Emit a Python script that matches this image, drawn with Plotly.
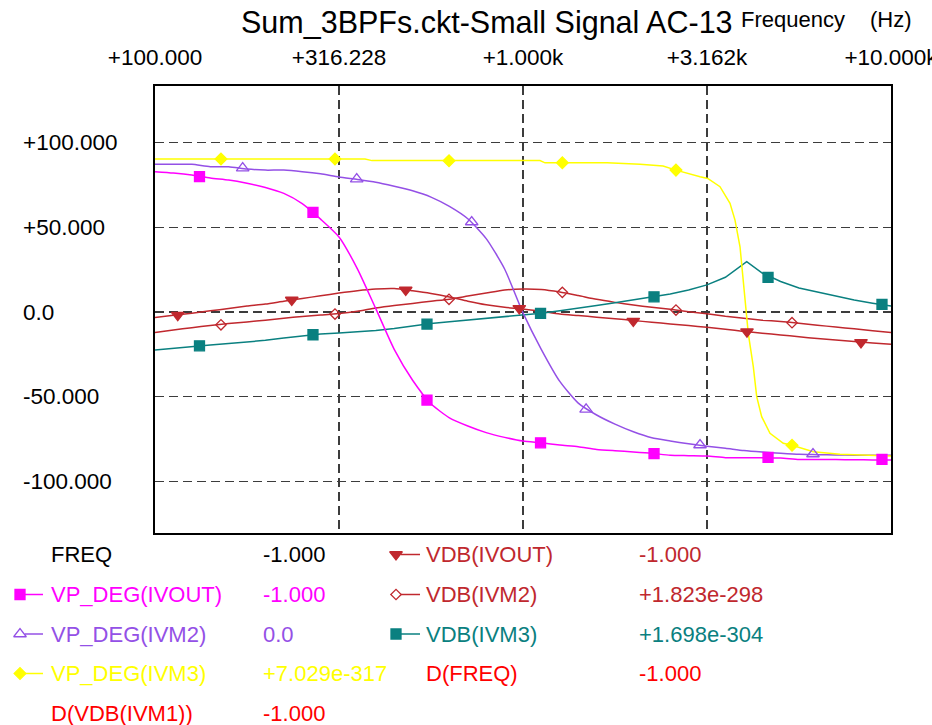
import plotly.graph_objects as go

W, H = 932, 725
FONT = "Liberation Sans, Arial, sans-serif"

# ---------------- data ----------------
FREQ = [100, 112.2, 125.9, 141.3, 158.5, 177.8, 199.5, 223.9, 251.2, 281.8,
        316.2, 354.8, 398.1, 446.7, 501.2, 562.3, 631.0, 707.9, 794.3, 891.3,
        1000, 1122, 1259, 1413, 1585, 1778, 1995, 2239, 2512, 2818,
        3162, 3548, 3981, 4467, 5012, 5623, 6310, 7079, 7943, 8913, 10000]

VP_DEG_IVOUT = [82.8, 82.0, 80.8, 79.0, 77.8, 75.9, 73.5, 70.0, 64.0, 54.8,
                44.3, 25.5, 2.0, -22.0, -40.2, -54.1, -62.4, -67.2, -71.1, -73.9,
                -76.1, -77.1, -78.4, -79.4, -81.0, -81.8, -82.5, -83.3, -84.5, -84.7,
                -84.9, -85.9, -85.9, -85.9, -86.1, -86.9, -87.0, -87.0, -87.1, -87.2, -87.3]

VP_DEG_IVM2 = [87.1, 87.1, 87.1, 85.7, 85.7, 84.3, 83.7, 83.7, 82.8, 81.5,
               79.6, 78.2, 76.6, 74.2, 71.5, 67.8, 62.3, 55.0, 43.3, 25.4,
               -0.5, -22.1, -40.9, -53.7, -60.7, -66.1, -70.6, -74.1, -76.0, -77.7,
               -79.1, -80.3, -81.7, -82.6, -83.3, -83.9, -84.1, -84.3, -84.4, -84.5, -84.5]

VDB_IVOUT = [-3.2, -1.9, -0.7, 0.7, 2.1, 3.5, 4.7, 6.4, 8.0, 9.6,
             11.2, 12.6, 13.6, 13.9, 12.6, 11.0, 8.9, 6.4, 4.3, 2.8,
             1.8, 0.4, -1.2, -2.1, -3.0, -3.9, -5.0, -6.0, -7.0, -8.0,
             -9.0, -10.2, -11.4, -12.5, -13.5, -14.6, -15.6, -16.5, -17.4, -18.3, -19.0]

VDB_IVM2 = [-12.0, -10.6, -9.2, -8.0, -6.8, -5.8, -4.8, -3.7, -2.6, -1.8,
            -0.9, 0.5, 2.4, 3.9, 5.1, 6.4, 7.6, 9.4, 11.2, 13.0,
            13.6, 13.3, 11.8, 9.7, 7.5, 5.7, 4.1, 2.8, 1.6, 0.2,
            -1.0, -2.5, -3.7, -4.8, -5.6, -6.6, -7.8, -8.8, -9.9, -11.0, -12.0]

VDB_IVM3_F = [100, 112.2, 125.9, 141.3, 158.5, 177.8, 199.5, 223.9, 251.2, 281.8,
              316.2, 354.8, 398.1, 446.7, 501.2, 562.3, 631.0, 707.9, 794.3, 891.3,
              1000, 1122, 1259, 1413, 1585, 1778, 1995, 2239, 2512, 2818,
              3162, 3548, 3981, 4054, 4467, 5012, 5623, 6310, 7079, 7943, 8913, 10000]
VDB_IVM3 = [-22.4, -21.3, -20.3, -19.4, -18.6, -17.7, -16.7, -15.3, -14.0, -13.0,
            -12.4, -11.7, -10.9, -9.7, -8.2, -6.8, -5.7, -4.7, -3.9, -2.8,
            -1.9, -0.7, 0.8, 2.2, 3.8, 5.5, 7.2, 8.7, 10.7, 13.0,
            16.0, 20.5, 28.3, 29.7, 23.0, 18.0, 14.2, 11.7, 9.2, 7.1, 5.2, 3.5]

VP_DEG_IVM3_F = [100, 372.1, 388.8, 1112, 1148, 1692, 2080, 2402, 2604, 2790,
                 3028, 3177, 3430, 3652, 3768, 3888, 3968, 4036, 4094, 4225,
                 4316, 4452, 4690, 5097, 5383, 6150, 7267, 10000]
VP_DEG_IVM3 = [90.2, 90.2, 89.3, 89.3, 88.0, 88.0, 87.1, 86.1, 83.7, 81.8,
               79.8, 78.8, 73.9, 64.1, 54.2, 38.5, 18.9, -0.8, -12.6, -32.2,
               -49.9, -61.7, -71.5, -77.4, -78.6, -82.4, -83.9, -84.9]

# marker samples
MK_A_F = [132.1, 268.7, 548.4, 1116, 2270, 4633, 9451]
VP_DEG_IVOUT_MK = [79.8, 58.8, -51.9, -77.1, -83.5, -85.7, -86.9]
VDB_IVM3_MK = [-19.9, -13.4, -7.1, -0.8, 9.0, 20.5, 4.5]
MK_B_F = [151.1, 308.4, 629.4, 1279, 2604, 5383]
VP_DEG_IVM3_MK = [90.2, 90.2, 89.2, 88.0, 83.7, -78.6]
VDB_IVM2_MK = [-7.5, -1.2, 7.5, 11.6, 1.2, -6.3]
MK_C_F = [173.1, 353.3, 725.4, 1484, 3027, 6138]
VP_DEG_IVM2_MK = [84.9, 78.4, 53.1, -57.4, -78.4, -83.7]
MK_D_F = [115.3, 235.3, 480.1, 977, 1994, 4061, 8288]
VDB_IVOUT_MK = [-1.8, 7.1, 13.0, 2.2, -5.3, -11.6, -17.9]

X_TICKS = [100, 316.228, 1000, 3162.28, 10000]
X_TICK_LABELS = ["+100.000", "+316.228", "+1.000k", "+3.162k", "+10.000k"]
Y_TICKS = [100, 50, 0, -50, -100]
Y_TICK_LABELS = ["+100.000", "+50.000", "0.0", "-50.000", "-100.000"]

TITLE = "Sum_3BPFs.ckt-Small Signal AC-13"

# legend table rows: (name, value, colour, symbol)
LEG_COL1 = [("FREQ", "-1.000", "#000000", None),
            ("VP_DEG(IVOUT)", "-1.000", "#ff00ff", "square"),
            ("VP_DEG(IVM2)", "0.0", "#9450e6", "triangle-up-open"),
            ("VP_DEG(IVM3)", "+7.029e-317", "#ffff00", "diamond"),
            ("D(VDB(IVM1))", "-1.000", "#ff0000", None)]
LEG_COL2 = [("VDB(IVOUT)", "-1.000", "#c0282e", "triangle-down"),
            ("VDB(IVM2)", "+1.823e-298", "#c0282e", "diamond-open"),
            ("VDB(IVM3)", "+1.698e-304", "#0a8080", "square"),
            ("D(FREQ)", "-1.000", "#ff0000", None)]

# ---------------- layout helpers ----------------
PL, PR, PT, PB = 155, 891, 86, 533
def fx(x):
    return x / W
def fy(y):
    return 1 - y / H

C_MAG, C_PUR, C_YEL, C_RED, C_TEAL = "#ff00ff", "#9450e6", "#ffff00", "#c0282e", "#0a8080"

fig = go.Figure()

def line(x, y, color, shape="spline"):
    fig.add_trace(go.Scatter(x=x, y=y, mode="lines", line=dict(color=color, width=1.5, shape=shape,
                                                               smoothing=0.6 if shape == "spline" else None),
                             hoverinfo="skip", showlegend=False))

def marks(x, y, color, symbol, size):
    fig.add_trace(go.Scatter(x=x, y=y, mode="markers",
                             marker=dict(color=color, symbol=symbol, size=size,
                                         line=dict(color=color, width=1.3)),
                             hoverinfo="skip", showlegend=False))

line(FREQ, VDB_IVOUT, C_RED)
line(FREQ, VDB_IVM2, C_RED)
line(VDB_IVM3_F, VDB_IVM3, C_TEAL, "linear")
line(FREQ, VP_DEG_IVOUT, C_MAG)
line(FREQ, VP_DEG_IVM2, C_PUR)
line(VP_DEG_IVM3_F, VP_DEG_IVM3, C_YEL, "linear")

marks(MK_D_F, VDB_IVOUT_MK, C_RED, "triangle-down", 11)
marks(MK_B_F, VDB_IVM2_MK, C_RED, "diamond-open", 8)
marks(MK_A_F, VDB_IVM3_MK, C_TEAL, "square", 10)
marks(MK_A_F, VP_DEG_IVOUT_MK, C_MAG, "square", 10)
marks(MK_C_F, VP_DEG_IVM2_MK, C_PUR, "triangle-up-open", 11)
marks(MK_B_F, VP_DEG_IVM3_MK, C_YEL, "diamond", 9)

# legend symbols on an overlay pixel axis
ROWS_Y = [554.5, 594.5, 634, 673.5, 713]
for col, (mx, lx0, lx1) in ((LEG_COL1, (20, 25, 43)), (LEG_COL2, (396, 401, 420))):
    for i, (name, val, color, sym) in enumerate(col):
        if sym is None:
            continue
        fig.add_trace(go.Scatter(x=[lx0, lx1], y=[ROWS_Y[i]] * 2, mode="lines",
                                 line=dict(color=color, width=1.5), xaxis="x2", yaxis="y2",
                                 hoverinfo="skip", showlegend=False))
        size = {"square": 10, "triangle-up-open": 11, "diamond": 9,
                "triangle-down": 11, "diamond-open": 8}[sym]
        fig.add_trace(go.Scatter(x=[mx], y=[ROWS_Y[i]], mode="markers",
                                 marker=dict(color=color, symbol=sym, size=size,
                                             line=dict(color=color, width=1.3)),
                                 xaxis="x2", yaxis="y2", hoverinfo="skip", showlegend=False))

ann = []
ann.append(dict(text=TITLE, x=fx(239), y=fy(22), xanchor="left", yanchor="middle",
                font=dict(family=FONT, size=30.5, color="#000000")))
ann.append(dict(text="Frequency", x=fx(739), y=fy(19), xanchor="left", yanchor="middle",
                font=dict(family=FONT, size=22, color="#000000")))
ann.append(dict(text="(Hz)", x=fx(868), y=fy(19), xanchor="left", yanchor="middle",
                font=dict(family=FONT, size=22, color="#000000")))
for v, t in zip(Y_TICKS, Y_TICK_LABELS):
    ann.append(dict(text=t, x=fx(21), xref="paper", y=v, yref="y", xanchor="left", yanchor="middle",
                    font=dict(family=FONT, size=22.5, color="#000000")))
for col, (nx, vx) in ((LEG_COL1, (49, 261)), (LEG_COL2, (424, 637))):
    for i, (name, val, color, sym) in enumerate(col):
        for t, x in ((name, nx), (val, vx)):
            ann.append(dict(text=t, x=fx(x), y=fy(ROWS_Y[i]), xanchor="left", yanchor="middle",
                            font=dict(family=FONT, size=22, color=color)))
for a in ann:
    a.setdefault("xref", "paper")
    a.setdefault("yref", "paper")
    a["showarrow"] = False

grid = dict(showgrid=True, gridcolor="#3c3c3c", gridwidth=1.3, griddash="9px,5px",
            showline=True, linecolor="#000000", linewidth=2, mirror=True, zeroline=False,
            ticks="", automargin=False)

fig.update_layout(
    width=W, height=H, autosize=False,
    margin=dict(l=0, r=0, t=0, b=0, pad=0),
    paper_bgcolor="#ffffff", plot_bgcolor="rgba(0,0,0,0)",
    showlegend=False,
    annotations=ann,
    xaxis=dict(type="log", range=[2, 4], domain=[fx(PL), fx(PR)], side="top", anchor="y",
               tickvals=X_TICKS, ticktext=X_TICK_LABELS, ticklabelstandoff=10,
               ticklabeloverflow="allow",
               tickfont=dict(family=FONT, size=22.5, color="#000000"), **grid),
    yaxis=dict(range=[-130.3, 133.3], domain=[fy(PB), fy(PT)], anchor="x",
               tickvals=Y_TICKS, showticklabels=False, **grid),
    xaxis2=dict(domain=[0, 1], range=[0, W], visible=False, anchor="y2", fixedrange=True,
                automargin=False),
    yaxis2=dict(domain=[0, 1], range=[H, 0], visible=False, anchor="x2", fixedrange=True,
                automargin=False),
)

fig.write_html("out.html", config={"displayModeBar": False, "staticPlot": True},
               post_script="document.body.style.margin='0px';document.body.style.overflow='hidden';")
